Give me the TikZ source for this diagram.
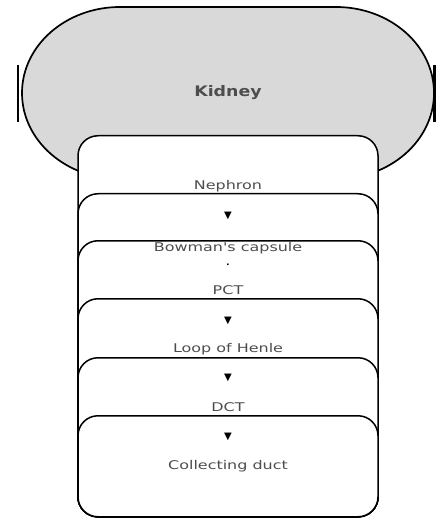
\documentclass[tikz,border=0pt]{standalone}
\usepackage{fontspec}
\setmainfont{DejaVu Sans}
\newfontfamily\labelfont[FakeStretch=1.33]{DejaVu Sans}
\newfontfamily\kidneyfont[FakeStretch=1.2]{DejaVu Sans}
\usepackage{tikz}
\definecolor{KidneyGray}{RGB}{217, 217, 217}
\definecolor{LabelGray}{RGB}{77, 77, 77}

\begin{document}
\begin{tikzpicture}[
          x=1pt, y=-1pt,
          stage/.style={rectangle, rounded corners=20pt, draw=black, line width=1.5pt, fill=white, minimum width=300pt, inner sep=0pt, anchor=north},
          lbl/.style={text=LabelGray, inner sep=0pt, font=\labelfont\fontsize{12}{14}\selectfont},
          organ/.style={text=LabelGray, inner sep=0pt, font=\kidneyfont\bfseries\fontsize{14.5}{17}\selectfont},
          down/.style={inner sep=0pt, font=\fontsize{10}{12}\selectfont}
        ]
          \useasboundingbox (0,0) rectangle (436,518);

          % kidney outline and side bars
          \draw[line width=1.7pt, fill=KidneyGray] (120,7) -- (336,7)
            arc[start angle=-90, end angle=90, x radius=98, y radius=86] -- (120,179)
            arc[start angle=90, end angle=270, x radius=98, y radius=86] -- cycle;
          \draw[line width=2.4pt] (18,65) -- (18,122);
          \draw[line width=2.4pt] (434.5,65) -- (434.5,122);
          \node[organ] (kidney) at (228,93) {Kidney};

          % stacked stages
          \node[stage, minimum height=381pt] (nephronbox) at (228,135) {};
          \node[stage, minimum height=323pt] (linkbox) at (228,193) {};
          \node[stage, minimum height=276pt] (bowmanbox) at (228,240) {};
          \node[stage, minimum height=218pt] (henlebox) at (228,298) {};
          \node[stage, minimum height=159pt] (dctbox) at (228,357) {};
          \node[stage, minimum height=101pt] (ductbox) at (228,415) {};

          \node[lbl] (nephron) at (228,186) {Nephron};
          \node[down] (down1) at (228,216) {▼};
          \node[lbl] (bowman) at (228,248) {Bowman's capsule};
          \node[lbl, text=black] (dot) at (228,265) {.};
          \node[lbl] (pct) at (228,290) {PCT};
          \node[down] (down2) at (228,321) {▼};
          \node[lbl] (henle) at (228,349) {Loop of Henle};
          \node[down] (down3) at (228,378) {▼};
          \node[lbl] (dct) at (228,407) {DCT};
          \node[down] (down4) at (228,437) {▼};
          \node[lbl] (duct) at (228,466) {Collecting duct};
        \end{tikzpicture}
\end{document}
